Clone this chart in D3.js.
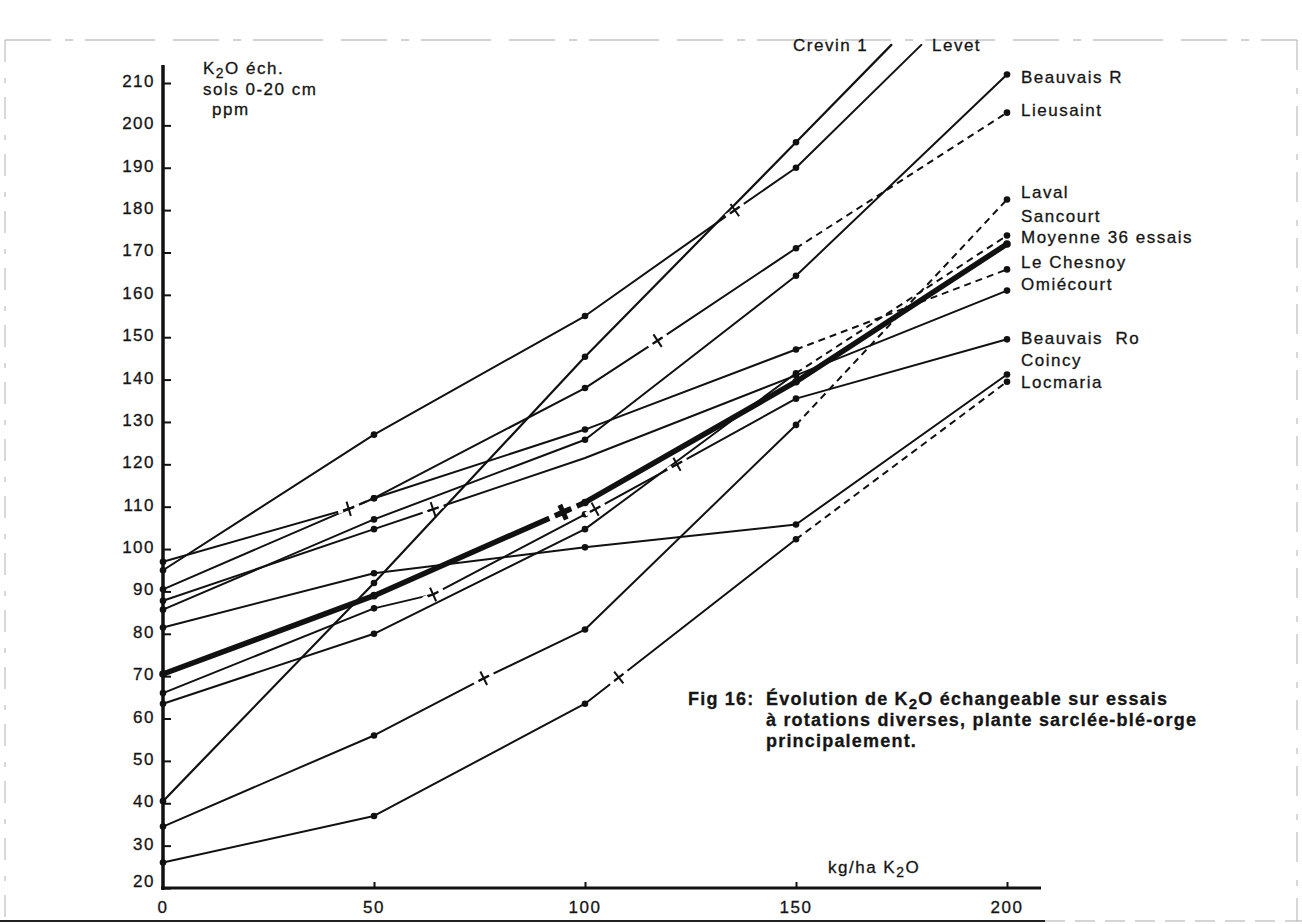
<!DOCTYPE html>
<html><head><meta charset="utf-8">
<script src="https://cdn.jsdelivr.net/npm/d3@7"></script>
<style>
body{margin:0;background:#fff;}
text{font-family:"Liberation Sans",Arial,sans-serif;fill:#151515;stroke:#151515;stroke-width:0.3px;}
</style></head>
<body>
<script>
// ---------- data ----------
const doses = [0, 50, 100, 150, 200];
const seriesNames = ["Crevin 1","Levet","Beauvais R","Lieusaint","Laval","Sancourt",
  "Moyenne 36 essais","Le Chesnoy","Omiécourt","Beauvais Ro","Coincy","Locmaria"];
const crevin1    = [40.5, 92, 145.4, 196, null];
const levet      = [95, 127, 155, 190, null];
const beauvaisR  = [85.7, 107, 125.8, 164.5, 212];
const lieusaint  = [97, 112, 138, 171, 203];
const laval      = [34.5, 56, 81, 129.3, 182.5];
const sancourt   = [63.5, 80, 104.7, 141.5, 174];
const moyenne    = [70.5, 89, 111, 139.5, 172];
const leChesnoy  = [90.5, 112, 128.2, 147.1, 166];
const omiecourt  = [87.8, 104.7, 121.5, 141, 161];
const beauvaisRo = [66, 86, 108.2, 135.5, 149.5];
const coincy     = [81.5, 94.3, 100.4, 105.8, 141.2];
const locmaria   = [26, 37, 63.5, 102.3, 139.5];
const seriesValues = [crevin1, levet, beauvaisR, lieusaint, laval, sancourt,
  moyenne, leChesnoy, omiecourt, beauvaisRo, coincy, locmaria];

// intermediate readings drawn with a cross
const crossSeries = ["Lieusaint","Lieusaint","Levet","Laval","Moyenne 36 essais",
  "Omiécourt","Beauvais Ro","Beauvais Ro","Beauvais Ro","Locmaria"];
const crossDose  = [44, 117.2, 135.5, 76, 94.8, 64, 64, 102.4, 121.8, 108];
const crossValue = [109.5, 149.2, 180, 69.5, 108.7, 109.4, 89.3, 109.4, 120, 69.7];

// lines running out through the top of the frame
const exitSeries = ["Crevin 1", "Levet"];
const exitDose   = [172.6, 179.7];
const exitValue  = [219, 219];

// dashed stretches [series, from dose, to dose]
const dashedSpans = [["Lieusaint",44,50],["Lieusaint",150,200],["Laval",150,200],
  ["Sancourt",150,200],["Le Chesnoy",150,200],["Locmaria",150,200]];
// reading without a dot
const undotted = [["Omiécourt",100]];

const yTicks = d3.range(20, 211, 10);
const xTicks = [0, 50, 100, 150, 200];

// ---------- layout ----------
const W = 1302, H = 924;
const x = d3.scaleLinear().domain([0, 200]).range([163, 1007]);
const y = d3.scaleLinear().domain([20, 210]).range([888, 83]);
const labelBaseline = {"Beauvais R":83,"Lieusaint":116,"Laval":198,"Sancourt":222,
  "Moyenne 36 essais":243,"Le Chesnoy":268,"Omiécourt":290,"Beauvais Ro":344,
  "Coincy":366,"Locmaria":388};

const svg = d3.select("body").append("svg").attr("width", W).attr("height", H);
svg.append("rect").attr("width", W).attr("height", H).attr("fill", "#fff");

// scanned frame
const frame = svg.append("g").attr("fill","none");
frame.append("path").attr("d",`M5,40H1297`).attr("stroke","#a8a8a8").attr("stroke-width",1.1).attr("stroke-dasharray","46,14,8,12,70,18");
frame.append("path").attr("d",`M5,40V921`).attr("stroke","#b0b0b0").attr("stroke-width",1).attr("stroke-dasharray","22,16,5,14");
frame.append("path").attr("d",`M1297,40V921`).attr("stroke","#b0b0b0").attr("stroke-width",1).attr("stroke-dasharray","30,18,6,12");
frame.append("path").attr("d",`M0,921H1045`).attr("stroke","#222").attr("stroke-width",2);
frame.append("path").attr("d",`M1045,921H1302`).attr("stroke","#aaa").attr("stroke-width",1).attr("stroke-dasharray","20,10");

const txt = {"font-size":"17px","letter-spacing":"1.5px"};
function styled(sel, o){ for (const k in o) sel.attr(k, o[k]); return sel; }

// axes
const yAx = svg.append("g").attr("transform",`translate(${x(0)},0)`)
  .call(d3.axisRight(y).tickValues(yTicks).tickSize(8).tickFormat(""));
yAx.select(".domain").remove();
yAx.selectAll(".tick line").attr("stroke","#111").attr("stroke-width",2);
const xAx = svg.append("g").attr("transform",`translate(0,${y(20)})`)
  .call(d3.axisTop(x).tickValues(xTicks.slice(1)).tickSize(6).tickFormat(""));
xAx.select(".domain").remove();
xAx.selectAll(".tick line").attr("stroke","#111").attr("stroke-width",2);
svg.append("line").attr("x1",x(0)).attr("x2",x(0)).attr("y1",65).attr("y2",y(20)+2)
  .attr("stroke","#111").attr("stroke-width",3.5);
svg.append("line").attr("x1",x(0)-2).attr("x2",1041).attr("y1",y(20)).attr("y2",y(20))
  .attr("stroke","#111").attr("stroke-width",3);

svg.append("g").selectAll("text").data(yTicks).join("text")
  .attr("x", 155).attr("y", d => y(d) + 4 - (d === 20 ? 5 : 0))
  .attr("text-anchor","end").attr("font-size","17px").attr("letter-spacing","1.5px")
  .text(d => d);
svg.append("g").selectAll("text").data(xTicks).join("text")
  .attr("x", d => x(d)).attr("y", 913)
  .attr("text-anchor","middle").attr("font-size","17px").attr("letter-spacing","1.5px")
  .text(d => d);

// axis titles
function k2o(g, xx, yy, before, after, size){
  const t = g.append("text").attr("x",xx).attr("y",yy).attr("font-size",size+"px").attr("letter-spacing","1.5px");
  t.append("tspan").text(before + "K");
  t.append("tspan").attr("dy",4).attr("font-size",(size*0.82)+"px").text("2");
  t.append("tspan").attr("dy",-4).text("O" + after);
  return t;
}
k2o(svg, 203, 74, "", " éch.", 17);
styled(svg.append("text").attr("x",203).attr("y",95), txt).text("sols 0-20 cm");
styled(svg.append("text").attr("x",212).attr("y",115), txt).text("ppm");
k2o(svg, 828, 873, "kg/ha ", "", 17);

// ---------- series ----------
const series = seriesNames.map((name, i) => {
  const pts = doses.map((d, j) => ({x: d, v: seriesValues[i][j], mark: "dot"}))
    .filter(p => p.v !== null);
  crossSeries.forEach((s, j) => { if (s === name) pts.push({x: crossDose[j], v: crossValue[j], mark: "cross"}); });
  exitSeries.forEach((s, j) => { if (s === name) pts.push({x: exitDose[j], v: exitValue[j], mark: "none"}); });
  undotted.forEach(u => { if (u[0] === name) pts.forEach(p => { if (p.x === u[1]) p.mark = "none"; }); });
  pts.sort((a, b) => a.x - b.x);
  return {name, pts, thick: name === "Moyenne 36 essais"};
});

function isDashed(name, x0, x1){
  return dashedSpans.some(s => s[0] === name && x0 >= s[1] && x1 <= s[2]);
}
const lineGen = d3.line().x(p => x(p.x)).y(p => y(p.v));
const linesG = svg.append("g").attr("fill","none").attr("stroke","#111").attr("stroke-linejoin","round");
series.forEach(s => {
  let runs = [], cur = null;
  for (let i = 0; i < s.pts.length - 1; i++) {
    const dash = isDashed(s.name, s.pts[i].x, s.pts[i+1].x);
    if (!cur || cur.dash !== dash) { cur = {dash, pts: [s.pts[i]]}; runs.push(cur); }
    cur.pts.push(s.pts[i+1]);
  }
  runs.forEach(r => {
    linesG.append("path").attr("d", lineGen(r.pts))
      .attr("stroke-width", s.thick ? 5.5 : (s.name === "Crevin 1" ? 2.2 : 2))
      .attr("stroke-dasharray", r.dash ? "7,5" : null)
      .attr("stroke-linecap", r.dash ? "butt" : "round");
  });
});

// markers
const markG = svg.append("g");
series.forEach(s => {
  s.pts.forEach((p, i) => {
    const px = x(p.x), py = y(p.v);
    if (p.mark === "dot") {
      markG.append("circle").attr("cx",px).attr("cy",py).attr("r", s.thick ? 3.8 : 3.3).attr("fill","#111");
    } else if (p.mark === "cross") {
      const a = s.pts[Math.max(0,i-1)], b = s.pts[Math.min(s.pts.length-1,i+1)];
      const ang = Math.atan2(y(b.v) - y(a.v), x(b.x) - x(a.x));
      const c = Math.cos(ang), sn = Math.sin(ang);
      const g0 = s.thick ? 9 : 6, g1 = s.thick ? 15 : 11, gw = s.thick ? 8 : 4;
      // small breaks in the line on each side of the cross
      markG.append("path")
        .attr("d", `M${px - c*g1},${py - sn*g1}L${px - c*g0},${py - sn*g0}M${px + c*g0},${py + sn*g0}L${px + c*g1},${py + sn*g1}`)
        .attr("stroke","#fff").attr("stroke-width", gw).attr("fill","none");
      const L = s.thick ? 7 : 5.5, P = s.thick ? 8 : 7.5;
      const d = `M${px - c*L},${py - sn*L}L${px + c*L},${py + sn*L}` +
                `M${px + sn*P},${py - c*P}L${px - sn*P},${py + c*P}`;
      markG.append("path").attr("d", d).attr("stroke","#111")
        .attr("stroke-width", s.thick ? 5 : 2).attr("fill","none");
    }
  });
});

// series labels
const lab = svg.append("g");
series.forEach(s => {
  if (labelBaseline[s.name] === undefined) return;
  styled(lab.append("text").attr("x",1021).attr("y",labelBaseline[s.name]), txt)
    .style("white-space","pre")
    .text(s.name === "Beauvais Ro" ? "Beauvais  Ro" : s.name);
});
styled(lab.append("text").attr("x",793).attr("y",51), txt).text("Crevin 1");
styled(lab.append("text").attr("x",932).attr("y",51), txt).text("Levet");

// caption
const cap = svg.append("g").attr("font-weight","bold").attr("font-size","18px").attr("letter-spacing","1.2px");
cap.append("text").attr("x",688).attr("y",705).text("Fig 16:");
const l1 = cap.append("text").attr("x",766).attr("y",705);
l1.append("tspan").text("Évolution de K");
l1.append("tspan").attr("dy",4).attr("font-size","15px").text("2");
l1.append("tspan").attr("dy",-4).text("O échangeable sur essais");
cap.append("text").attr("x",766).attr("y",726).text("à rotations diverses, plante sarclée-blé-orge");
cap.append("text").attr("x",766).attr("y",747).text("principalement.");
</script>
</body></html>
